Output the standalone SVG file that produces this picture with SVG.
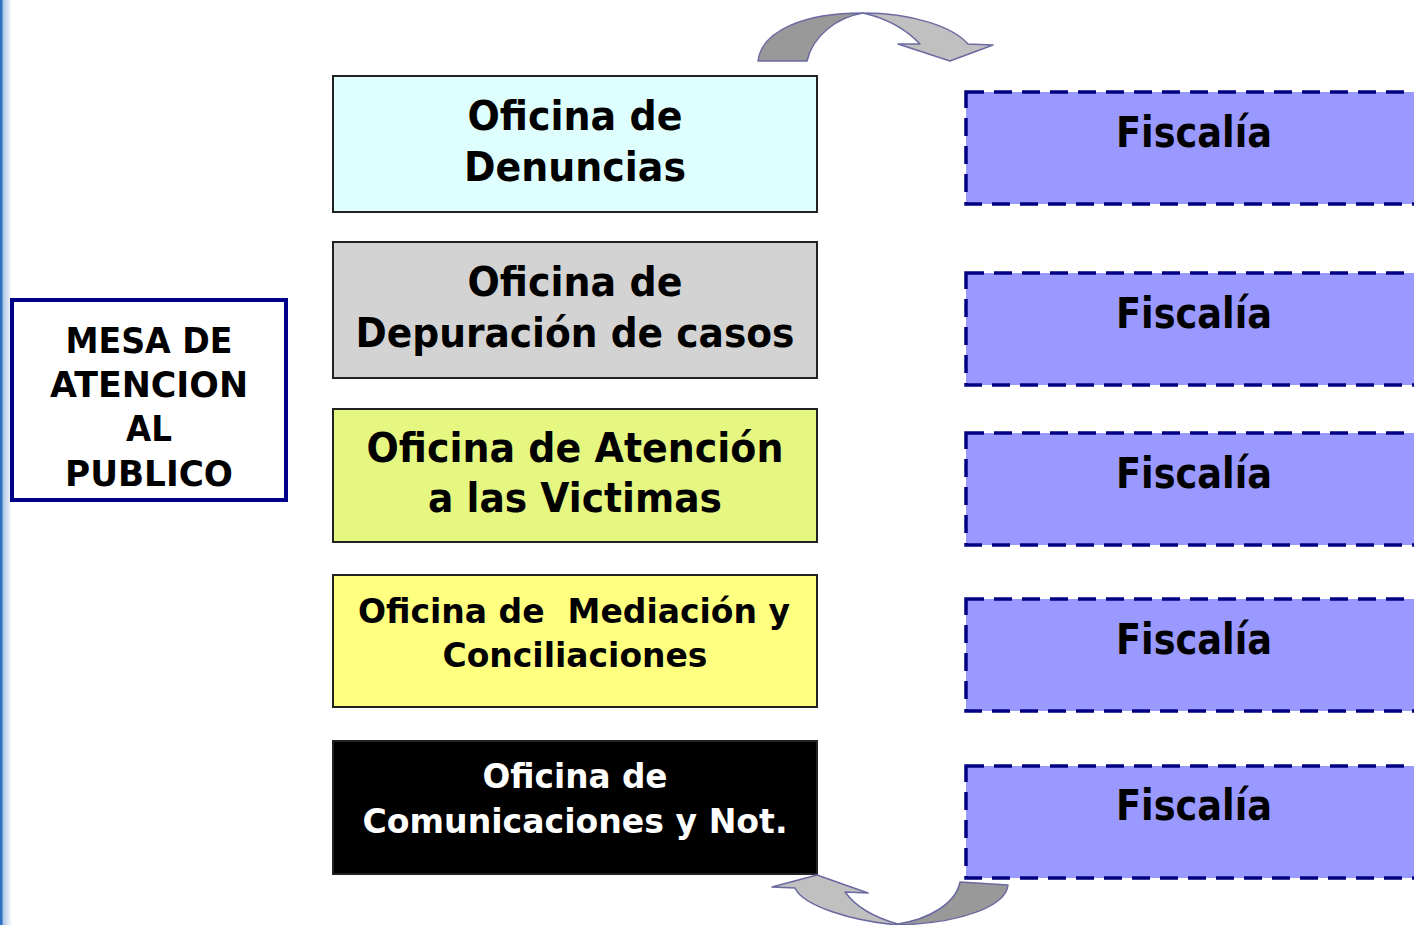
<svg xmlns="http://www.w3.org/2000/svg" width="1414" height="925" viewBox="0 0 1414 925">
<defs>
<linearGradient id="edge" x1="0" y1="0" x2="1" y2="0">
<stop offset="0" stop-color="#2f6fbf" stop-opacity="0.45"/>
<stop offset="1" stop-color="#2f6fbf" stop-opacity="0"/>
</linearGradient>
</defs>
<style>
.t{font-family:"DejaVu Sans",Verdana,sans-serif;font-weight:bold;text-anchor:middle;fill:#000}
.w{fill:#fff}
.off{stroke:#222;stroke-width:2}
.fis{fill:#9999ff;stroke:#000080;stroke-width:3.5;stroke-dasharray:18 10}
.dk{fill:#999999;stroke:#6a6aa0;stroke-width:1.5;stroke-linejoin:round}
.lt{fill:#c0c0c0;stroke:#6a6aa0;stroke-width:1.5;stroke-linejoin:round}
</style>
<rect x="0" y="0" width="1414" height="925" fill="#fff"/>
<rect x="2" y="0" width="10" height="925" fill="url(#edge)"/>
<rect x="0" y="0" width="2.5" height="925" fill="#2f6fbf"/>

<g id="mesa">
<rect x="12" y="300" width="274" height="200" fill="#fff" stroke="#00008b" stroke-width="4"/>
<text class="t" font-size="36" x="149" y="353" textLength="167" lengthAdjust="spacingAndGlyphs">MESA DE</text>
<text class="t" font-size="36" x="149" y="397" textLength="198" lengthAdjust="spacingAndGlyphs">ATENCION</text>
<text class="t" font-size="36" x="149" y="441" textLength="46" lengthAdjust="spacingAndGlyphs">AL</text>
<text class="t" font-size="36" x="149" y="486" textLength="168" lengthAdjust="spacingAndGlyphs">PUBLICO</text>
</g>

<g id="denuncias">
<rect class="off" x="333" y="76" width="484" height="136" fill="#dfffff"/>
<text class="t" font-size="41" x="575" y="130" textLength="215" lengthAdjust="spacingAndGlyphs">Oficina de</text>
<text class="t" font-size="41" x="575" y="181" textLength="222" lengthAdjust="spacingAndGlyphs">Denuncias</text>
</g>

<g id="depuracion">
<rect class="off" x="333" y="242" width="484" height="136" fill="#d3d3d3"/>
<text class="t" font-size="41" x="575" y="296" textLength="215" lengthAdjust="spacingAndGlyphs">Oficina de</text>
<text class="t" font-size="41" x="575" y="347" textLength="439" lengthAdjust="spacingAndGlyphs">Depuración de casos</text>
</g>

<g id="victimas">
<rect class="off" x="333" y="409" width="484" height="133" fill="#e5f780"/>
<text class="t" font-size="41" x="575" y="462" textLength="417" lengthAdjust="spacingAndGlyphs">Oficina de Atención</text>
<text class="t" font-size="41" x="575" y="512" textLength="294" lengthAdjust="spacingAndGlyphs">a las Victimas</text>
</g>

<g id="mediacion">
<rect class="off" x="333" y="575" width="484" height="132" fill="#ffff80"/>
<text class="t" font-size="34" x="574" y="623" textLength="432" lengthAdjust="spacingAndGlyphs" xml:space="preserve">Oficina de  Mediación y</text>
<text class="t" font-size="34" x="575" y="667" textLength="265" lengthAdjust="spacingAndGlyphs">Conciliaciones</text>
</g>

<g id="comunicaciones">
<rect class="off" x="333" y="741" width="484" height="133" fill="#000"/>
<text class="t w" font-size="34" x="575" y="788" textLength="185" lengthAdjust="spacingAndGlyphs">Oficina de</text>
<text class="t w" font-size="34" x="575" y="833" textLength="425" lengthAdjust="spacingAndGlyphs">Comunicaciones y Not.</text>
</g>

<g id="fiscalia1">
<rect class="fis" x="966" y="92" width="470" height="112"/>
<text class="t" font-size="42" x="1194" y="147" textLength="156" lengthAdjust="spacingAndGlyphs">Fiscalía</text>
</g>
<g id="fiscalia2">
<rect class="fis" x="966" y="273" width="470" height="112"/>
<text class="t" font-size="42" x="1194" y="328" textLength="156" lengthAdjust="spacingAndGlyphs">Fiscalía</text>
</g>
<g id="fiscalia3">
<rect class="fis" x="966" y="433" width="470" height="112"/>
<text class="t" font-size="42" x="1194" y="488" textLength="156" lengthAdjust="spacingAndGlyphs">Fiscalía</text>
</g>
<g id="fiscalia4">
<rect class="fis" x="966" y="599" width="470" height="112"/>
<text class="t" font-size="42" x="1194" y="654" textLength="156" lengthAdjust="spacingAndGlyphs">Fiscalía</text>
</g>
<g id="fiscalia5">
<rect class="fis" x="966" y="766" width="470" height="112"/>
<text class="t" font-size="42" x="1194" y="820" textLength="156" lengthAdjust="spacingAndGlyphs">Fiscalía</text>
</g>

<g id="connectors">
<path class="dk" d="M758,61 C762,30 805,13 863,13 C838,17 813,35 807,61 Z"/>
<path class="lt" d="M863,13 C913,13 953,27 968,44 L993,45 L950,61 L898,44 L920,44 C905,28 885,18 863,13 Z"/>
<path class="dk" d="M898,925 C962,923 1006,906 1008,885 L960,882 C956,903 930,919 898,924 Z"/>
<path class="lt" d="M898,925 C852,921 803,906 795,888 L772,887 L817,875 L868,893 L845,892 C856,907 876,918 898,924 Z"/>
</g>
</svg>
